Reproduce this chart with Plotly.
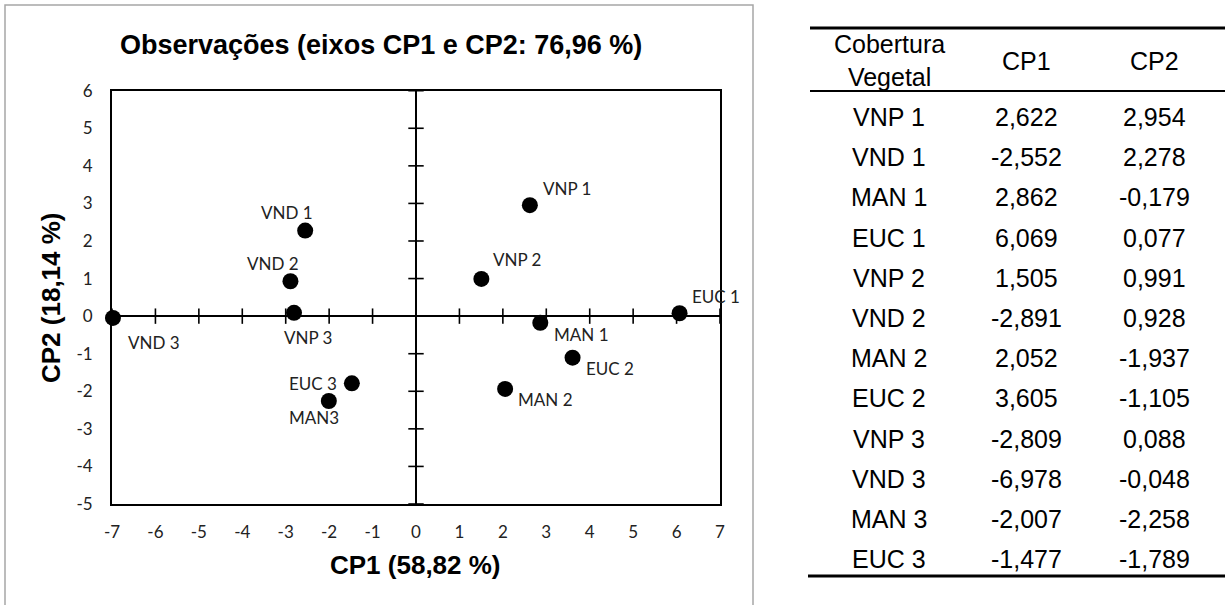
import plotly.graph_objects as go

# ---------------- data ----------------
cobertura = ["VNP 1", "VND 1", "MAN 1", "EUC 1", "VNP 2", "VND 2",
             "MAN 2", "EUC 2", "VNP 3", "VND 3", "MAN 3", "EUC 3"]
point_labels = ["VNP 1", "VND 1", "MAN 1", "EUC 1", "VNP 2", "VND 2",
                "MAN 2", "EUC 2", "VNP 3", "VND 3", "MAN3", "EUC 3"]
cp1 = [2.622, -2.552, 2.862, 6.069, 1.505, -2.891, 2.052, 3.605, -2.809, -6.978, -2.007, -1.477]
cp2 = [2.954, 2.278, -0.179, 0.077, 0.991, 0.928, -1.937, -1.105, 0.088, -0.048, -2.258, -1.789]
x_ticks = list(range(-7, 8))
y_ticks = list(range(-5, 7))
chart_title = "Observações (eixos CP1 e CP2: 76,96 %)"
x_title = "CP1 (58,82 %)"
y_title = "CP2 (18,14 %)"
table_header = ["Cobertura<br>Vegetal", "CP1", "CP2"]

# ---------------- layout helpers ----------------
W, H = 1225, 605
def px(x):
    return x / W
def py(y):
    return 1 - y / H

# label placement per point: (xanchor, xshift, yshift)
label_place = [
    ("left", 11, 17),     # VNP 1
    ("center", -18, 18),  # VND 1
    ("left", 12, -12),    # MAN 1
    ("left", 10, 17),     # EUC 1
    ("left", 10, 19),     # VNP 2
    ("center", -17, 18),  # VND 2
    ("left", 11, -11),    # MAN 2
    ("left", 11, -11),    # EUC 2
    ("center", 14, -25),  # VNP 3
    ("left", 13, -25),    # VND 3
    ("center", -15, -17), # MAN3
    ("right", -13, 0),    # EUC 3
]

LABEL_FONT = "Lato, Carlito, Calibri, sans-serif"
ARIAL = "Liberation Sans, Arial, sans-serif"

fig = go.Figure()

# tick crosses on the zero axes
xt = [v for v in x_ticks if v != 0]
yt = [v for v in y_ticks if v != 0]
fig.add_trace(go.Scatter(
    x=xt, y=[0] * len(xt), mode="markers", cliponaxis=False, hoverinfo="skip",
    marker=dict(symbol="line-ns", size=11, color="black", line=dict(color="black", width=1.6)),
    showlegend=False))
fig.add_trace(go.Scatter(
    x=[0] * len(yt), y=yt, mode="markers", cliponaxis=False, hoverinfo="skip",
    marker=dict(symbol="line-ew", size=11, color="black", line=dict(color="black", width=1.6)),
    showlegend=False))

# observation points
fig.add_trace(go.Scatter(
    x=cp1, y=cp2, mode="markers", cliponaxis=False, text=point_labels,
    marker=dict(size=16, color="black"), showlegend=False))

annotations = []
for lab, xv, yv, (xa, xs, ys) in zip(point_labels, cp1, cp2, label_place):
    annotations.append(dict(
        x=xv, y=yv, xref="x", yref="y", text=lab, showarrow=False,
        xanchor=xa, yanchor="middle", xshift=xs, yshift=ys,
        font=dict(family=LABEL_FONT, size=17, color="#222222")))

# titles
annotations.append(dict(x=px(381), y=py(45), xref="paper", yref="paper",
                        text="<b>" + chart_title + "</b>", showarrow=False,
                        xanchor="center", yanchor="middle",
                        font=dict(family=ARIAL, size=27, color="black")))
annotations.append(dict(x=px(415), y=py(565), xref="paper", yref="paper",
                        text="<b>" + x_title + "</b>", showarrow=False,
                        xanchor="center", yanchor="middle",
                        font=dict(family=ARIAL, size=26, color="black")))
annotations.append(dict(x=px(51), y=py(298), xref="paper", yref="paper",
                        text="<b>" + y_title + "</b>", showarrow=False, textangle=-90,
                        xanchor="center", yanchor="middle",
                        font=dict(family=ARIAL, size=26, color="black")))

# table
col_x = [889, 1026, 1154]
for cx, htxt in zip(col_x, table_header):
    annotations.append(dict(x=px(cx), y=py(61), xref="paper", yref="paper",
                            text=htxt, showarrow=False, xanchor="center", yanchor="middle",
                            font=dict(family=ARIAL, size=25, color="black")))

def fmt(v):
    return f"{v:.3f}".replace(".", ",")

row_y0, row_step = 117, 40.2
for i, (name, a, b) in enumerate(zip(cobertura, cp1, cp2)):
    yy = py(row_y0 + i * row_step)
    for cx, txt in zip(col_x, [name, fmt(a), fmt(b)]):
        annotations.append(dict(x=px(cx), y=yy, xref="paper", yref="paper",
                                text=txt, showarrow=False, xanchor="center", yanchor="middle",
                                font=dict(family=ARIAL, size=25, color="black")))

shapes = [
    # outer chart frame (light gray, open at the bottom edge)
    dict(type="rect", xref="paper", yref="paper", x0=px(5), x1=px(753), y0=-0.05, y1=py(5),
         line=dict(color="#a6a6a6", width=1.5), fillcolor="rgba(0,0,0,0)", layer="below"),
    # table rules
    dict(type="line", xref="paper", yref="paper", x0=px(810), x1=1.0, y0=py(28), y1=py(28),
         line=dict(color="black", width=3)),
    dict(type="line", xref="paper", yref="paper", x0=px(810), x1=1.0, y0=py(91), y1=py(91),
         line=dict(color="black", width=2)),
    dict(type="line", xref="paper", yref="paper", x0=px(808), x1=1.0, y0=py(576), y1=py(576),
         line=dict(color="black", width=3)),
]

fig.update_layout(
    template="none",
    width=W, height=H,
    margin=dict(l=0, r=0, t=0, b=0, pad=0, autoexpand=False),
    paper_bgcolor="white", plot_bgcolor="white",
    showlegend=False,
    annotations=annotations,
    shapes=shapes,
    xaxis=dict(domain=[px(112), px(720)], range=[-7, 7], tickvals=x_ticks,
               ticktext=[str(v) for v in x_ticks], automargin=False,
               showgrid=False, zeroline=True, zerolinecolor="black", zerolinewidth=2,
               showline=True, mirror=True, linecolor="black", linewidth=2,
               ticks="outside", ticklen=12, tickcolor="rgba(0,0,0,0)",
               tickfont=dict(family=LABEL_FONT, size=17, color="#222222"),
               fixedrange=True),
    yaxis=dict(domain=[py(504), py(90.7)], range=[-5, 6], tickvals=y_ticks,
               ticktext=[str(v) for v in y_ticks], automargin=False,
               showgrid=False, zeroline=True, zerolinecolor="black", zerolinewidth=2,
               showline=True, mirror=True, linecolor="black", linewidth=2,
               ticks="outside", ticklen=14, tickcolor="rgba(0,0,0,0)",
               tickfont=dict(family=LABEL_FONT, size=17, color="#222222"),
               fixedrange=True),
)

fig.write_html("out.html")
